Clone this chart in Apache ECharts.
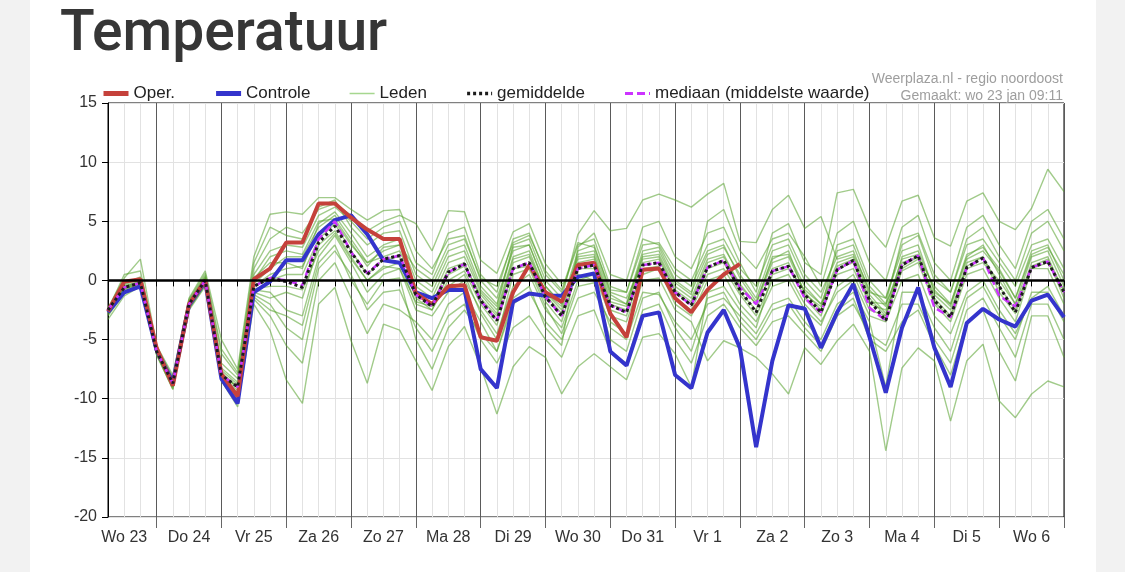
<!DOCTYPE html>
<html>
<head>
<meta charset="utf-8">
<title>Temperatuur</title>
<script src="https://cdn.jsdelivr.net/npm/echarts@6/dist/echarts.min.js"></script>
<style>
  html, body { margin: 0; padding: 0; background: #f2f2f2; }
  #card { position: absolute; left: 30px; top: 0; width: 1066px; height: 572px; background: #fff; }
  #chart { position: absolute; left: 0; top: 0; width: 1125px; height: 572px; }
</style>
</head>
<body>
<div id="card"></div>
<div id="chart"></div>
<script>
// dagen op de x-as, label staat op 12:00 van elke dag
const dayLabels = ['Wo 23', 'Do 24', 'Vr 25', 'Za 26', 'Zo 27', 'Ma 28', 'Di 29', 'Wo 30',
  'Do 31', 'Vr 1', 'Za 2', 'Zo 3', 'Ma 4', 'Di 5', 'Wo 6', 'Do 7']
const hourLabels = ['00:00', '06:00', '12:00', '18:00']

// operationele run (stopt na 10 dagen)
const oper = [-2.6, -0.1, 0.1, -5.7, -8.9, -2.0, 0.0, -7.9, -9.8, 0.1,
  1.0, 3.2, 3.2, 6.5, 6.5, 5.3, 4.3, 3.5, 3.5, -1.1,
  -2.0, -0.5, -0.4, -4.8, -5.1, -1.0, 1.3, -1.0, -1.8, 1.3,
  1.5, -2.8, -4.8, 0.9, 1.0, -1.5, -2.7, -0.8, 0.5, 1.4]

// controle run
const controle = [-2.7, -1.0, -0.5, -5.9, -8.6, -2.1, -0.1, -8.3, -10.4, -1.0,
  -0.1, 1.7, 1.7, 3.9, 5.1, 5.5, 3.9, 1.7, 1.5, -1.0,
  -1.5, -0.8, -0.8, -7.5, -9.1, -1.8, -1.1, -1.3, -1.3, 0.3,
  0.6, -6.0, -7.2, -3.0, -2.7, -8.0, -9.1, -4.4, -2.5, -5.7,
  -14.1, -6.8, -2.1, -2.4, -5.7, -2.7, -0.3, -4.8, -9.5, -4.0,
  -0.6, -5.7, -9.0, -3.6, -2.4, -3.3, -3.9, -1.7, -1.2, -3.1]

const gemiddelde = [-2.5, -0.6, -0.2, -6.0, -8.7, -2.0, 0.0, -8.0, -9.0, -0.5,
  0.2, -0.1, -0.6, 3.2, 4.6, 2.4, 0.5, 1.8, 2.1, -1.2,
  -2.2, 0.7, 1.4, -1.7, -3.4, 1.0, 1.5, -1.4, -3.0, 1.0,
  1.3, -2.1, -2.7, 1.3, 1.5, -1.0, -2.1, 1.1, 1.7, -0.8,
  -2.7, 0.8, 1.2, -1.2, -2.7, 0.9, 1.7, -1.7, -3.4, 1.3,
  2.1, -1.7, -3.1, 1.1, 1.9, -0.5, -2.7, 1.1, 1.6, -1.0]

const mediaan = [-2.5, -0.6, -0.2, -6.0, -8.7, -2.0, 0.0, -8.0, -9.0, -0.5,
  0.2, 0.0, -0.4, 3.5, 5.0, 2.4, 0.6, 1.8, 2.1, -1.2,
  -2.2, 0.7, 1.4, -1.7, -3.4, 1.0, 1.5, -1.4, -3.0, 1.0,
  1.3, -2.1, -2.7, 1.3, 1.5, -1.0, -2.1, 1.1, 1.7, -0.6,
  -2.0, 0.8, 1.2, -1.5, -2.7, 0.9, 1.7, -2.3, -3.4, 1.3,
  2.1, -2.3, -3.1, 1.1, 1.9, -1.3, -2.2, 1.1, 1.6, -1.0]

// ensemble leden (een selectie)
const leden = [
  [-2.4, -0.5, -0.1, -5.9, -8.6, -2.0, 0.0, -8.0, -9.0, -0.5, 0.5, 1.0, 1.2, 4.0, 5.0, 3.0, 1.5, 2.0, 2.5, -0.5,
    -1.5, 1.5, 2.0, -1.0, -2.5, 2.0, 2.5, -1.0, -2.5, 2.0, 2.2, -1.5, -2.0, 2.0, 2.2, -0.5, -1.5, 1.8, 2.2, -0.5,
    -2.0, 1.5, 2.0, -1.0, -2.5, 3.0, 3.5, 0.0, -1.5, 2.5, 3.0, -1.0, -2.0, 2.0, 3.0, 0.5, -2.0, 2.0, 2.5, -0.5],
  [-2.6, -0.7, -0.3, -6.1, -8.8, -2.1, -0.1, -8.2, -9.5, -0.8, -1.0, -2.5, -3.0, 2.0, 3.8, 1.5, -1.0, 0.5, 1.0, -2.5,
    -3.0, -1.0, 0.0, -2.5, -4.5, -0.5, 0.5, -2.5, -4.0, 0.0, 0.5, -3.0, -3.5, 0.5, 1.0, -2.0, -3.0, 0.0, 0.5, -2.0,
    -3.5, -0.5, 0.0, -2.5, -3.8, -0.5, 0.5, -2.5, -3.0, 0.8, 1.5, -2.0, -3.5, 0.5, 1.0, -1.5, -3.5, 1.0, 1.0, -2.0],
  [-2.5, -0.4, 0.2, -5.8, -8.4, -1.8, 0.3, -7.0, -8.3, 0.5, 2.5, 3.0, 2.8, 5.5, 6.2, 5.0, 3.5, 4.5, 5.0, 1.5,
    0.5, 4.0, 4.5, 0.5, -1.0, 3.5, 4.0, 0.5, -1.0, 3.0, 3.5, -0.5, -1.0, 3.0, 3.2, 1.0, 0.0, 3.0, 3.5, 1.0,
    -0.5, 3.0, 3.5, 0.5, -1.0, 2.0, 2.5, -1.0, -1.5, 3.0, 3.8, 0.0, -1.0, 3.0, 3.5, 1.5, -0.5, 3.0, 3.5, 1.0],
  [-2.8, -1.0, -0.4, -6.2, -9.0, -2.3, -0.3, -8.4, -9.8, -1.2, -2.0, -4.0, -5.0, 1.0, 2.5, 0.5, -2.5, -1.0, -0.8, -4.0,
    -6.0, -3.0, -2.0, -5.0, -7.0, -4.0, -3.0, -5.0, -6.5, -3.0, -2.5, -6.0, -7.0, -2.5, -2.0, -5.0, -7.0, -3.0, -2.0, -4.0,
    -5.5, -3.5, -3.0, -4.5, -6.0, -3.0, -2.0, -4.5, -5.5, -2.0, -2.0, -5.0, -7.0, -2.5, -1.5, -4.0, -6.5, -2.0, -2.0, -5.0],
  [-2.3, 0.2, 1.8, -5.5, -8.0, -1.5, 0.8, -5.0, -7.5, 2.0, 5.6, 5.8, 5.6, 7.0, 7.0, 6.0, 5.1, 5.9, 6.0, 2.5,
    1.0, 3.5, 3.8, 0.0, -1.5, 2.5, 3.0, -0.5, -2.0, 2.5, 3.0, -1.0, -1.5, 1.5, 1.8, -1.0, -2.0, 1.0, 1.5, -1.0,
    -2.5, 1.0, 1.5, -1.5, -3.0, 1.0, 1.5, -1.5, -3.0, 1.5, 2.0, -1.5, -3.0, 1.5, 2.0, -0.5, -2.5, 1.5, 2.0, -1.0],
  [-3.0, -1.1, -0.5, -6.3, -9.2, -2.5, -0.5, -8.5, -10.7, -2.0, -4.2, -8.4, -10.4, -2.0, -0.6, -5.1, -8.7, -3.7, -4.2, -6.8,
    -9.3, -5.6, -3.9, -7.3, -11.3, -7.3, -5.6, -6.5, -9.6, -7.3, -6.2, -7.3, -8.4, -4.8, -4.5, -6.2, -9.0, -1.0, -0.5, -2.5,
    -4.0, 0.5, 1.0, -0.8, -2.0, 0.5, 1.0, -2.0, -2.5, 1.0, 1.8, -1.2, -2.5, 1.0, 1.5, 0.0, -2.0, 1.0, 1.5, -0.8],
  [-2.5, -0.6, -0.2, -6.0, -8.7, -2.0, 0.1, -7.8, -9.0, -0.3, 1.0, 2.0, 2.0, 4.5, 5.5, 3.5, 1.5, 2.5, 3.0, -1.0,
    -2.0, 1.0, 1.5, -1.5, -3.0, 1.5, 2.0, -1.2, -2.8, 1.5, 1.8, -2.0, -2.5, 1.8, 2.0, -0.8, -1.8, 1.5, 2.0, -0.3,
    -2.0, 2.0, 2.2, -0.5, -2.0, 1.5, 2.0, -1.2, -2.8, 2.0, 2.5, -0.8, -2.2, 1.8, 2.5, 0.8, -1.5, 2.2, 2.8, 0.5],
  [-2.7, -0.8, -0.3, -6.1, -8.9, -2.2, -0.2, -8.3, -9.6, -1.0, -1.5, -1.0, -1.5, 3.0, 4.2, 2.0, 0.0, 1.0, 1.5, -2.0,
    -2.5, 0.0, 0.8, -2.0, -3.8, 1.0, 1.2, -1.8, -3.5, 1.0, 1.0, -2.5, -3.0, 1.0, 1.2, -1.5, -2.5, 0.5, 1.0, -1.2,
    -3.0, 0.0, 0.5, -2.0, -3.5, -1.0, 0.0, -3.0, -3.5, 0.0, 0.5, -3.0, -4.5, -1.0, 0.0, -2.5, -4.5, -1.5, -0.5, -3.0],
  [-2.4, -0.3, 0.3, -5.7, -8.3, -1.7, 0.4, -6.2, -8.0, 1.0, 3.5, 4.5, 4.0, 6.0, 6.5, 5.5, 4.2, 5.0, 5.5, 4.8,
    2.5, 5.9, 5.8, 1.7, 0.6, 4.1, 4.8, 1.4, -0.3, 0.5, 0.0, -4.0, -5.0, -1.0, -1.2, -3.5, -5.0, -2.0, -1.5, -3.0,
    -4.5, -2.0, -1.5, -3.5, -5.0, -2.0, -1.0, -3.5, -9.0, -1.0, -1.0, -4.0, -6.0, -1.5, -0.5, -3.0, -5.0, -1.0, -1.0, -3.5],
  [-3.3, -1.3, -0.5, -6.3, -9.2, -2.4, -0.4, -8.5, -10.2, -1.6, -3.0, -5.5, -7.0, 0.0, 1.5, -1.5, -4.5, -2.0, -2.5, -3.5,
    -5.0, -2.0, -1.0, -3.5, -6.0, -2.0, -1.0, -3.5, -5.0, -1.5, -1.0, -3.5, -4.5, 0.0, 0.2, -2.5, -3.5, -6.8, -5.1, -5.7,
    -6.5, -7.9, -9.6, -5.7, -7.1, -5.1, -3.7, -6.0, -14.4, -7.4, -5.7, -6.8, -11.9, -6.8, -5.4, -10.2, -11.6, -9.6, -8.5, -9.0],
  [-2.6, -0.6, -0.1, -6.0, -8.7, -2.0, 0.0, -7.9, -9.1, -0.4, 0.0, 0.5, 0.5, 3.5, 4.8, 2.5, 0.5, 1.8, 2.0, -1.5,
    -2.5, 0.5, 1.2, -1.2, -2.8, 1.8, 2.2, -1.0, -2.2, 2.2, 2.5, -1.2, -2.0, 2.5, 2.8, 0.0, -1.0, 2.2, 2.8, 0.5,
    -1.5, 2.5, 3.0, 0.0, -1.5, 2.5, 3.0, -0.5, -2.0, 3.5, 4.0, 0.5, -1.0, 3.5, 4.5, 2.0, 0.0, 4.0, 5.0, 2.5],
  [-2.5, 0.5, 0.8, -5.6, -8.2, -1.6, 0.6, -5.8, -7.8, 1.5, 4.5, 3.8, 3.5, 6.2, 6.8, 4.5, 3.0, 4.0, 4.2, 0.5,
    -0.5, 2.5, 3.0, -0.5, -2.0, 3.0, 3.5, 0.0, -1.5, 3.9, 5.9, 4.2, 4.4, 6.8, 7.3, 6.8, 6.2, 7.3, 8.2, 3.3,
    3.2, 6.0, 7.2, 4.4, 5.4, 1.8, 2.2, -0.8, -2.2, 1.8, 2.2, -1.8, -3.2, 1.2, 2.0, -1.0, -2.8, 1.2, 1.8, -1.5],
  [-2.9, -0.9, -0.4, -6.2, -9.0, -2.3, -0.3, -8.4, -10.0, -1.4, -2.5, -3.0, -3.8, 1.5, 3.0, 0.0, -2.0, 0.0, 0.2, -5.0,
    -7.5, -4.0, -2.5, -4.5, -6.0, -1.5, -0.5, -4.0, -5.5, 2.8, 4.0, 0.5, 0.0, 4.5, 5.0, 2.0, 1.0, 4.0, 4.5, 1.5,
    -1.0, 4.0, 4.8, 1.5, 0.5, 7.4, 7.7, 4.4, 2.8, 6.7, 7.2, 3.6, 2.9, 6.7, 7.4, 5.0, 4.3, 6.1, 9.4, 7.5],
  [-2.4, -0.2, 0.1, -5.8, -8.5, -1.9, 0.2, -7.4, -8.6, 0.2, 1.5, 1.5, 1.0, 4.8, 5.8, 4.0, 2.0, 3.0, 3.5, 0.0,
    -1.0, 2.0, 2.5, -0.8, -2.2, 2.8, 3.0, -0.5, -2.0, 1.8, 2.0, -1.8, -2.2, 2.2, 2.5, -0.2, -1.2, 5.0, 6.0, 2.5,
    1.0, 3.5, 4.0, 2.0, -0.5, 4.0, 5.0, 1.5, 0.0, 4.5, 5.5, 1.5, 0.0, 4.5, 5.5, 3.0, 1.0, 5.0, 6.0, 3.5],
  [-2.6, -0.7, -0.2, -6.0, -8.8, -2.1, -0.1, -8.1, -9.3, -0.7, -0.5, -0.5, -0.8, 2.5, 4.0, 1.8, 0.0, 1.2, 1.0, -1.8,
    -2.2, -0.5, 0.5, -2.8, -5.0, 0.5, 1.0, -2.2, -4.5, -0.5, -0.2, -5.0, -6.0, -1.5, -1.0, -4.0, -6.0, -1.5, -1.0, -3.5,
    -5.0, -2.5, -2.0, -4.0, -5.5, -2.5, -1.5, -5.0, -6.0, -3.5, -2.5, -5.5, -8.0, -3.5, -2.5, -6.0, -8.5, -3.0, -3.0, -6.5],
  [-2.5, -0.5, 0.0, -5.9, -8.6, -2.0, 0.1, -7.6, -8.8, 0.0, 2.0, 2.5, 2.2, 5.0, 5.2, 3.2, 1.2, 2.8, 3.0, 1.0,
    0.0, 3.0, 3.5, 0.2, -0.5, 3.2, 3.8, 0.8, -0.8, 3.2, 2.8, -0.8, -1.0, 3.5, 3.0, 0.5, -0.5, 2.5, 3.0, 0.2,
    -1.8, 1.8, 2.5, -1.2, -2.2, 1.2, 1.8, -1.8, -2.0, 1.2, 2.0, -0.5, -2.0, 2.2, 2.8, 1.0, -1.5, 2.5, 3.0, 0.0]
]

// tijdstappen: start wo 23 06:00, elke 6 uur
const times = []
for (let i = 0; i < controle.length; i++) {
  const h = 6 + 6 * i
  times.push(dayLabels[Math.floor(h / 24)] + ' ' + hourLabels[(h % 24) / 6])
}

const font = 'Liberation Sans, Arial, sans-serif'
const chart = echarts.init(document.getElementById('chart'), null, { renderer: 'canvas' })

const series = leden.map(row => ({
  name: 'Leden',
  type: 'line',
  data: row,
  symbol: 'none',
  silent: true,
  lineStyle: { width: 1.4, color: 'rgba(84, 160, 42, 0.55)' },
  itemStyle: { color: '#a6d78f' }
}))

series.push({
  name: 'Controle',
  type: 'line',
  data: controle,
  symbol: 'none',
  lineStyle: { width: 4, color: '#3434cc' },
  itemStyle: { color: '#3434cc' },
  markLine: {
    silent: true,
    symbol: 'none',
    label: { show: false },
    lineStyle: { color: '#000', width: 2.5, type: 'solid' },
    data: [{ yAxis: 0 }]
  }
})
series.push({
  name: 'Oper.',
  type: 'line',
  data: oper,
  symbol: 'none',
  lineStyle: { width: 4, color: '#c5413b' },
  itemStyle: { color: '#c5413b' }
})
series.push({
  name: 'mediaan (middelste waarde)',
  type: 'line',
  data: mediaan,
  symbol: 'none',
  lineStyle: { width: 2.5, color: '#cc33ff', type: [8, 4] },
  itemStyle: { color: '#cc33ff' }
})
series.push({
  name: 'gemiddelde',
  type: 'line',
  data: gemiddelde,
  symbol: 'none',
  lineStyle: { width: 3, color: '#1c1c1c', type: [3, 3] },
  itemStyle: { color: '#1c1c1c' }
})

const option = {
  animation: false,
  backgroundColor: 'transparent',
  title: [
    {
      text: 'Temperatuur', left: 60, top: 7, padding: 0,
      textStyle: { fontFamily: 'Roboto', fontWeight: 500, fontSize: 57, color: '#363636' }
    },
    {
      text: 'Weerplaza.nl - regio noordoost', right: 62, top: 72, padding: 0,
      textStyle: { fontFamily: font, fontWeight: 'normal', fontSize: 14, color: '#9e9e9e' }
    },
    {
      text: 'Gemaakt: wo 23 jan 09:11', right: 62, top: 89, padding: 0,
      textStyle: { fontFamily: font, fontWeight: 'normal', fontSize: 14, color: '#9e9e9e' }
    }
  ],
  legend: {
    left: 101, top: 85, padding: 0,
    itemGap: 38.5, itemWidth: 25, itemHeight: 14,
    selectedMode: false,
    itemStyle: { opacity: 0 },
    textStyle: { fontFamily: font, fontSize: 17, color: '#222' },
    data: [
      { name: 'Oper.', lineStyle: { width: 5 } },
      { name: 'Controle', lineStyle: { width: 5 } },
      { name: 'Leden', lineStyle: { width: 1.5, color: '#a6d78f' } },
      { name: 'gemiddelde', lineStyle: { width: 3.5 } },
      { name: 'mediaan (middelste waarde)', lineStyle: { width: 3 } }
    ]
  },
  grid: {
    left: 108, right: 61, top: 103, bottom: 55,
    show: true, borderColor: '#000', borderWidth: 1,
    outerBoundsMode: 'none'
  },
  xAxis: [
    {
      type: 'category',
      data: times,
      boundaryGap: false,
      axisLine: { lineStyle: { color: '#000', width: 1 } },
      axisTick: { interval: 0, length: 6, lineStyle: { color: '#000' } },
      axisLabel: {
        interval: (i) => i % 4 === 1,
        formatter: (v) => v.split(' ').slice(0, 2).join(' '),
        fontFamily: font, fontSize: 16, color: '#333', margin: 13
      },
      splitLine: { show: true, interval: 0, lineStyle: { color: '#e2e2e2', width: 1 } }
    },
    {
      // donkere daglijnen om middernacht
      type: 'category',
      data: times,
      boundaryGap: false,
      position: 'bottom',
      axisLine: { show: false },
      axisLabel: { show: false },
      axisTick: { show: true, interval: (i) => i % 4 === 3, length: 11, lineStyle: { color: '#666' } },
      splitLine: { show: true, interval: (i) => i % 4 === 3, lineStyle: { color: '#5a5a5a', width: 1 } }
    }
  ],
  yAxis: {
    type: 'value',
    min: -20,
    max: 15,
    interval: 5,
    axisLine: { show: true, lineStyle: { color: '#000', width: 1 } },
    axisTick: { show: true, length: 6, lineStyle: { color: '#000' } },
    axisLabel: { fontFamily: font, fontSize: 16, color: '#333', margin: 11 },
    splitLine: { show: true, lineStyle: { color: '#e2e2e2', width: 1 } }
  },
  series: series
}

chart.setOption(option)
</script>
</body>
</html>
